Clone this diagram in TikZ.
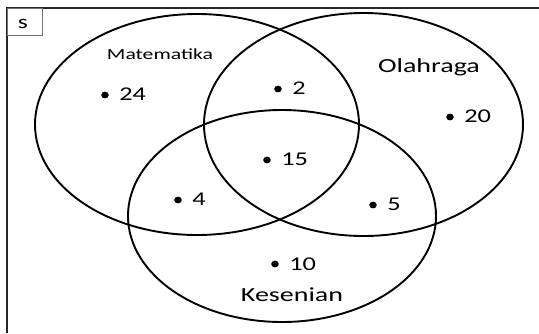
\documentclass[tikz,border=0pt]{standalone}
\usepackage{fontspec}
\setmainfont{Carlito}
\usetikzlibrary{positioning}

\begin{document}
\begin{tikzpicture}[
    x=1pt, y=-1pt,
    frame/.style={line width=1.6pt, black!85},
    setline/.style={line width=1.9pt},
    sbox/.style={draw=black!55, line width=0.7pt, anchor=north west, minimum width=35pt, minimum height=27pt, inner sep=0pt},
    sname/.style={anchor=base, xscale=1.35, inner sep=0pt, font=\fontsize{19}{22}\selectfont},
    setname/.style={anchor=base, xscale=1.4, inner sep=0pt, font=\fontsize{20}{24}\selectfont},
    dotpt/.style={fill=black},
    num/.style={anchor=base west, xscale=1.35, inner sep=0pt, font=\fontsize{19.5}{24}\selectfont}
]
\useasboundingbox (0,0) rectangle (539,333);

% universal set
\draw[frame] (7,333) -- (7,8) -- (539,8);
\node[sbox] (s) at (7,8) {};
\node[sname] (slbl) at (23,28) {s};

% the three sets
\draw[setline] (197,124.5) ellipse [x radius=162pt, y radius=110.5pt];
\draw[setline] (363.5,124.5) ellipse [x radius=159.5pt, y radius=111.5pt];
\draw[setline] (282,216) ellipse [x radius=154pt, y radius=106pt];

\node[setname, font=\fontsize{15.5}{18}\selectfont] (mat) at (160,59) {Matematika};
\node[setname] (ola) at (429,72) {Olahraga};
\node[setname] (kes) at (292,301) {Kesenian};

% members
\fill[dotpt] (105,95) ellipse [x radius=3.8pt, y radius=3.4pt];
\node[num] (n24) at (119,100) {24};
\fill[dotpt] (278,89) ellipse [x radius=3.8pt, y radius=3.4pt];
\node[num] (n2) at (292,94.5) {2};
\fill[dotpt] (450,117) ellipse [x radius=3.8pt, y radius=3.4pt];
\node[num] (n20) at (464,122) {20};
\fill[dotpt] (267,160) ellipse [x radius=3.8pt, y radius=3.4pt];
\node[num] (n15) at (281,165.5) {15};
\fill[dotpt] (178,200) ellipse [x radius=3.8pt, y radius=3.4pt];
\node[num] (n4) at (192,205.5) {4};
\fill[dotpt] (373,205) ellipse [x radius=3.8pt, y radius=3.4pt];
\node[num] (n5) at (387,210.5) {5};
\fill[dotpt] (275,264) ellipse [x radius=3.8pt, y radius=3.4pt];
\node[num] (n10) at (289,270) {10};
\end{tikzpicture}
\end{document}
